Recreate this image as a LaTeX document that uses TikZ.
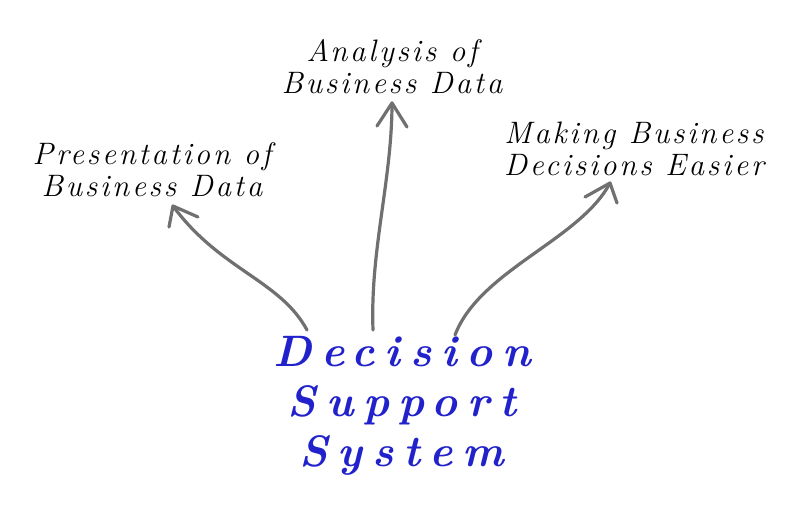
\documentclass[tikz,border=0pt]{standalone}
\usepackage{fontspec}
\setmainfont{Latin Modern Roman}
\newfontfamily\handfont[LetterSpace=9]{Latin Modern Roman}
\newfontfamily\bigfont[LetterSpace=22]{Latin Modern Roman}
\definecolor{arrowgray}{HTML}{707070}
\definecolor{titleblue}{HTML}{2222CC}
\begin{document}
\begin{tikzpicture}[x=1pt,y=-1pt,
  label/.style={align=center,font=\handfont\itshape\fontsize{31}{32}\selectfont,text=black,inner sep=0pt},
  title/.style={align=center,font=\bigfont\bfseries\itshape\fontsize{44}{50}\selectfont,text=titleblue,inner sep=0pt},
  sketch/.style={draw=arrowgray,line width=3.2pt,line cap=round,line join=round}]
\useasboundingbox (0,0) rectangle (800,512);
\fill[white] (0,0) rectangle (800,512);
\node[label] (pres) at (152,170) {Presentation of\\Business Data};
\node[label] (anal) at (392,67) {Analysis of\\Business Data};
\node[label] (make) at (634,149) {Making Business\\Decisions Easier};
\node[title] (dss) at (402,406) {Decision\\Support\\System};
% left arrow
\coordinate (ls) at (307,330);
\coordinate (lt) at (173,206);
\coordinate (lh1) at (169,227);
\coordinate (lh2) at (198,217);
\draw[sketch] (ls) .. controls (280,280) and (220,270) .. (lt);
\draw[sketch] (lh1) -- (lt) -- (lh2);
% middle arrow
\coordinate (ms) at (373,330);
\coordinate (mt) at (392,103);
\coordinate (mh1) at (377,126);
\coordinate (mh2) at (407,127);
\draw[sketch] (ms) .. controls (370,250) and (392,180) .. (mt);
\draw[sketch] (mh1) -- (mt) -- (mh2);
% right arrow
\coordinate (rs) at (455,335);
\coordinate (rt) at (610,183);
\coordinate (rh1) at (585,197);
\coordinate (rh2) at (617,203);
\draw[sketch] (rs) .. controls (480,270) and (580,240) .. (rt);
\draw[sketch] (rh1) -- (rt) -- (rh2);
\end{tikzpicture}
\end{document}
